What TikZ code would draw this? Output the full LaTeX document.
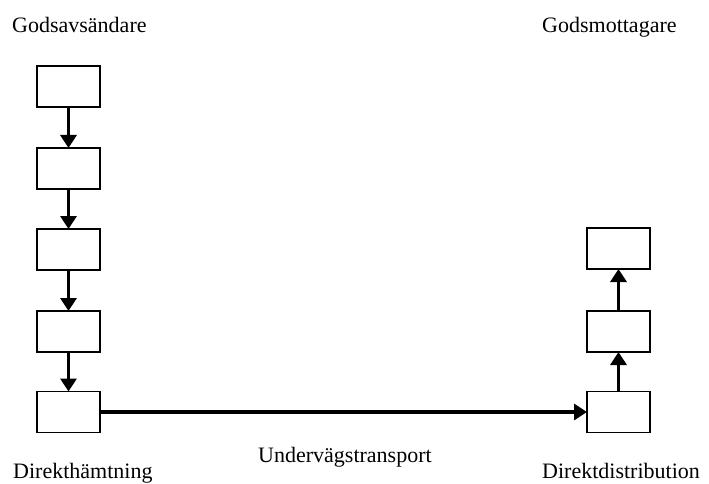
\documentclass[tikz,border=0pt]{standalone}
\usepackage{fontspec}
\setmainfont{Liberation Serif}
\usetikzlibrary{arrows.meta}
\begin{document}
\begin{tikzpicture}[x=1pt,y=-1pt,
  box/.style={draw,line width=1.6pt,minimum width=63pt,minimum height=41pt,inner sep=0pt,outer sep=0pt},
  lbl/.style={anchor=base west,inner sep=0pt,font=\fontsize{22}{26}\selectfont},
  flow/.style={line width=3.4pt,-{Triangle[width=16pt,length=13pt]}}]
\useasboundingbox (0,0) rectangle (709,484);
% left column
\node[box] (l1) at (68.5,86.5) {};
\node[box] (l2) at (68.5,168.5) {};
\node[box] (l3) at (68.5,249.5) {};
\node[box] (l4) at (68.5,331.5) {};
\node[box] (l5) at (68.5,412) {};
% right column
\node[box] (r1) at (618.5,248.5) {};
\node[box] (r2) at (618.5,331.5) {};
\node[box] (r3) at (618.5,412) {};
% arrows
\draw[flow] (l1.south) -- (l2.north);
\draw[flow] (l2.south) -- (l3.north);
\draw[flow] (l3.south) -- (l4.north);
\draw[flow] (l4.south) -- (l5.north);
\draw[flow] (l5.east) -- (r3.west);
\draw[flow] (r3.north) -- (r2.south);
\draw[flow] (r2.north) -- (r1.south);
% labels
\node[lbl] (t1) at (12,33) {Godsavsändare};
\node[lbl] (t2) at (542,33) {Godsmottagare};
\node[lbl] (t3) at (13,478) {Direkthämtning};
\node[lbl] (t4) at (258,462) {Undervägstransport};
\node[lbl] (t5) at (542,478) {Direktdistribution};
\end{tikzpicture}
\end{document}
